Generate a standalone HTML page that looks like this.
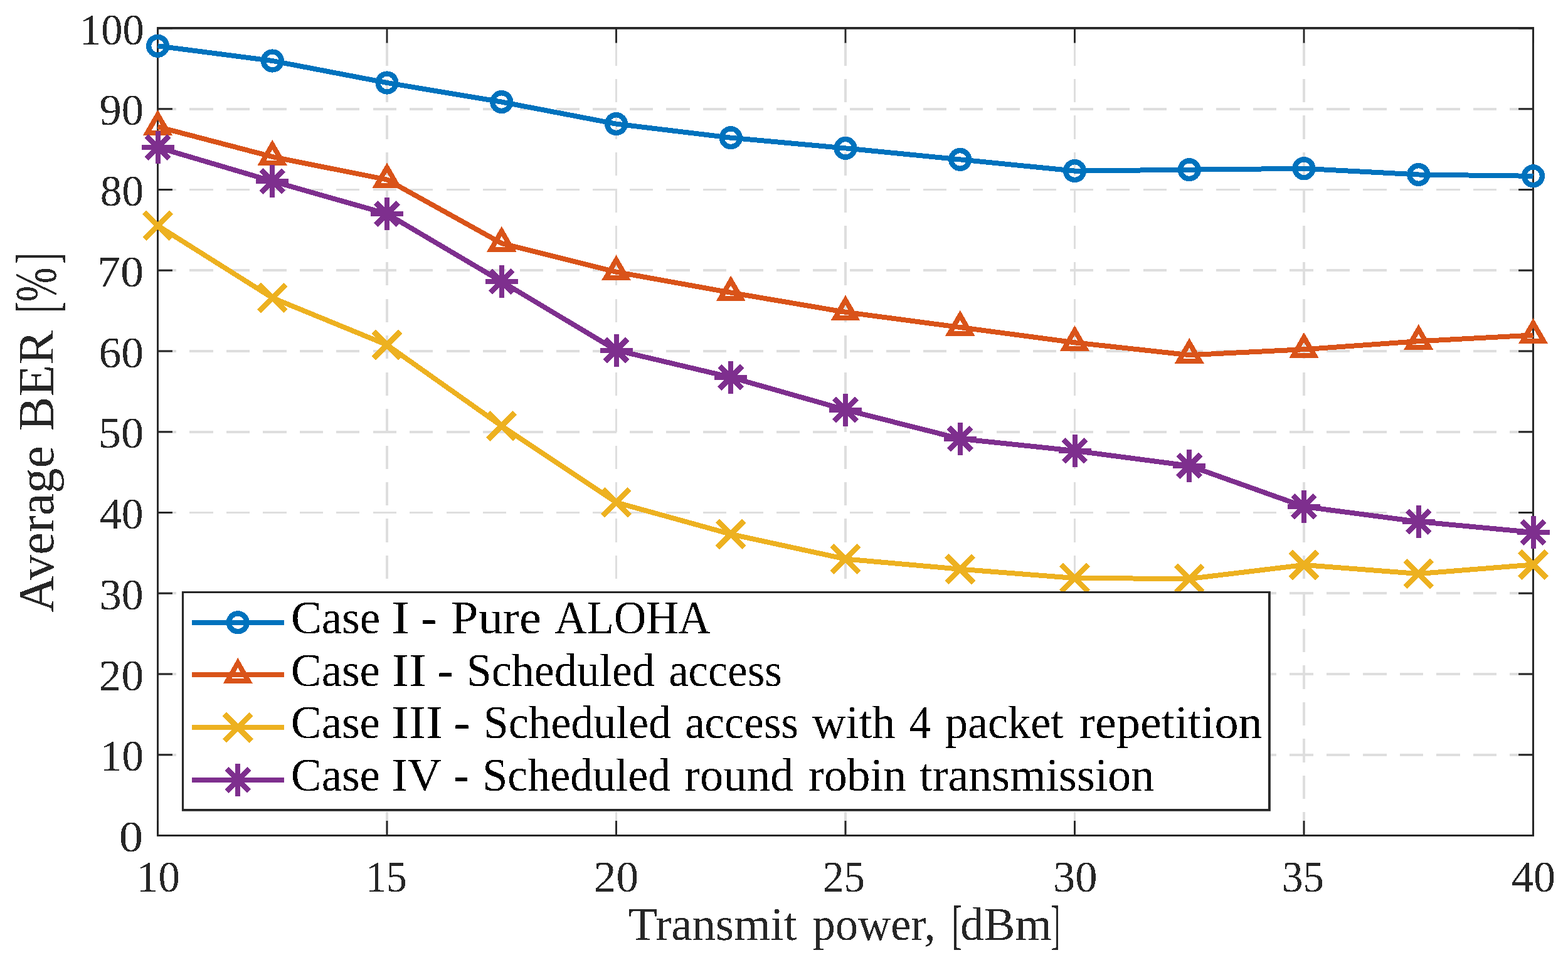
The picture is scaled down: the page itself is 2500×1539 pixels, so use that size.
<!DOCTYPE html>
<html><head><meta charset="utf-8"><title>Average BER vs Transmit power</title><style>html,body{margin:0;padding:0;background:#fff;overflow:hidden}svg{display:block}</style></head><body>
<svg width="2500" height="1539" viewBox="0 0 2500 1539">
<defs><filter id="al" filterUnits="userSpaceOnUse" x="0" y="0" width="2500" height="1539" color-interpolation-filters="sRGB"><feComponentTransfer><feFuncA type="discrete" tableValues="0 1"/></feComponentTransfer></filter></defs>
<rect x="0" y="0" width="2500" height="1539" fill="#fff"/>
<path d="M2444.5 1203.75H251.5M2444.5 1075H251.5M2444.5 946.25H251.5M2444.5 817.5H251.5M2444.5 688.75H251.5M2444.5 560H251.5M2444.5 431.25H251.5M2444.5 302.5H251.5M2444.5 173.75H251.5M617 1332.5V45M982.5 1332.5V45M1348 1332.5V45M1713.5 1332.5V45M2079 1332.5V45" stroke="#dedede" stroke-width="3.6" stroke-dasharray="37.3 21.17" fill="none" shape-rendering="crispEdges"/>
<path d="M251.5 1332.5h23.4M2444.5 1332.5h-23.4M251.5 1203.75h23.4M2444.5 1203.75h-23.4M251.5 1075h23.4M2444.5 1075h-23.4M251.5 946.25h23.4M2444.5 946.25h-23.4M251.5 817.5h23.4M2444.5 817.5h-23.4M251.5 688.75h23.4M2444.5 688.75h-23.4M251.5 560h23.4M2444.5 560h-23.4M251.5 431.25h23.4M2444.5 431.25h-23.4M251.5 302.5h23.4M2444.5 302.5h-23.4M251.5 173.75h23.4M2444.5 173.75h-23.4M251.5 45h23.4M2444.5 45h-23.4M251.5 1332.5v-23.4M251.5 45v23.4M617 1332.5v-23.4M617 45v23.4M982.5 1332.5v-23.4M982.5 45v23.4M1348 1332.5v-23.4M1348 45v23.4M1713.5 1332.5v-23.4M1713.5 45v23.4M2079 1332.5v-23.4M2079 45v23.4M2444.5 1332.5v-23.4M2444.5 45v23.4" stroke="#262626" stroke-width="2.9" fill="none"/>
<path fill="#262626" fill-rule="evenodd" d="M250.05 42.98H2445.95V1333.97H250.05Z M252.96 46.87V1331H2442.94V46.87Z"/>
<g font-family="Liberation Serif, serif" fill="#262626" filter="url(#al)">
<g font-size="70">
<text x="127.03" y="70.7" textLength="102.7" lengthAdjust="spacingAndGlyphs">100</text>
<text x="158.48" y="199.45" textLength="70.54" lengthAdjust="spacingAndGlyphs">90</text>
<text x="159.84" y="328.2" textLength="69.12" lengthAdjust="spacingAndGlyphs">80</text>
<text x="154.79" y="456.95" textLength="74.4" lengthAdjust="spacingAndGlyphs">70</text>
<text x="157.43" y="585.7" textLength="71.64" lengthAdjust="spacingAndGlyphs">60</text>
<text x="156.77" y="714.45" textLength="72.33" lengthAdjust="spacingAndGlyphs">50</text>
<text x="159" y="843.2" textLength="69.68" lengthAdjust="spacingAndGlyphs">40</text>
<text x="158.8" y="971.95" textLength="69.89" lengthAdjust="spacingAndGlyphs">30</text>
<text x="157.85" y="1100.7" textLength="71.2" lengthAdjust="spacingAndGlyphs">20</text>
<text x="159.99" y="1229.45" textLength="68.97" lengthAdjust="spacingAndGlyphs">10</text>
<text x="189.71" y="1358.2" textLength="38.38" lengthAdjust="spacingAndGlyphs">0</text>
<text x="218.1" y="1422.4" textLength="68.85" lengthAdjust="spacingAndGlyphs">10</text>
<text x="583.28" y="1422.4" textLength="65.52" lengthAdjust="spacingAndGlyphs">15</text>
<text x="946.85" y="1422.4" textLength="71.2" lengthAdjust="spacingAndGlyphs">20</text>
<text x="1312.03" y="1422.4" textLength="66.94" lengthAdjust="spacingAndGlyphs">25</text>
<text x="1678.98" y="1422.4" textLength="70.55" lengthAdjust="spacingAndGlyphs">30</text>
<text x="2044.04" y="1422.4" textLength="66.83" lengthAdjust="spacingAndGlyphs">35</text>
<text x="2410" y="1422.4" textLength="69.89" lengthAdjust="spacingAndGlyphs">40</text>
</g>
<text x="1002.09" y="1499.2" font-size="74" textLength="268.3" lengthAdjust="spacingAndGlyphs">Transmit</text>
<text x="1295.82" y="1499.2" font-size="74" textLength="195.64" lengthAdjust="spacingAndGlyphs">power,</text>
<text transform="matrix(0.6875 0 0 1.1508 1516.88 1504.49)" font-size="74">[</text>
<text x="1530.96" y="1499.2" font-size="74" textLength="145.98" lengthAdjust="spacingAndGlyphs">dBm</text>
<text transform="matrix(0.6188 0 0 1.1508 1675.24 1504.49)" font-size="74">]</text>
<g transform="translate(84.85 0) rotate(-90)"><text x="-976.79" y="0" font-size="81" textLength="265.87" lengthAdjust="spacingAndGlyphs">Average</text>
<text x="-687.75" y="0" font-size="81" textLength="161.29" lengthAdjust="spacingAndGlyphs">BER</text>
<text transform="matrix(0.6611 0 0 1.1818 -498.97 6.15)" font-size="81">[</text>
<text transform="matrix(0.8097 0 0 1.1630 -481.13 2.79)" font-size="81">%</text>
<text transform="matrix(0.6444 0 0 1.1818 -420.43 6.15)" font-size="81">]</text></g>
</g>
<g fill="none" stroke-width="8.0" shape-rendering="crispEdges">
<polyline points="251.5,73.3 434.25,97 617,132 799.75,162.6 982.5,197.6 1165.25,219.7 1348,236.4 1530.75,254.4 1713.5,272.6 1896.25,270.7 2079,268.8 2261.75,278.5 2444.5,280.8" stroke="#0072BD" stroke-linejoin="round"/>
<circle cx="251.5" cy="73.3" r="14.4" stroke="#0072BD" stroke-width="8.4"/>
<circle cx="434.25" cy="97" r="14.4" stroke="#0072BD" stroke-width="8.4"/>
<circle cx="617" cy="132" r="14.4" stroke="#0072BD" stroke-width="8.4"/>
<circle cx="799.75" cy="162.6" r="14.4" stroke="#0072BD" stroke-width="8.4"/>
<circle cx="982.5" cy="197.6" r="14.4" stroke="#0072BD" stroke-width="8.4"/>
<circle cx="1165.25" cy="219.7" r="14.4" stroke="#0072BD" stroke-width="8.4"/>
<circle cx="1348" cy="236.4" r="14.4" stroke="#0072BD" stroke-width="8.4"/>
<circle cx="1530.75" cy="254.4" r="14.4" stroke="#0072BD" stroke-width="8.4"/>
<circle cx="1713.5" cy="272.6" r="14.4" stroke="#0072BD" stroke-width="8.4"/>
<circle cx="1896.25" cy="270.7" r="14.4" stroke="#0072BD" stroke-width="8.4"/>
<circle cx="2079" cy="268.8" r="14.4" stroke="#0072BD" stroke-width="8.4"/>
<circle cx="2261.75" cy="278.5" r="14.4" stroke="#0072BD" stroke-width="8.4"/>
<circle cx="2444.5" cy="280.8" r="14.4" stroke="#0072BD" stroke-width="8.4"/>
<polyline points="251.5,202.2 434.25,250 617,286.5 799.75,388 982.5,433.7 1165.25,466.7 1348,497.8 1530.75,522 1713.5,546.3 1896.25,566.2 2079,557.2 2261.75,544.2 2444.5,534.5" stroke="#D95319" stroke-linejoin="round"/>
<polygon points="251.5,182.9 268.21,211.85 234.79,211.85" stroke="#D95319"/>
<polygon points="434.25,230.7 450.96,259.65 417.54,259.65" stroke="#D95319"/>
<polygon points="617,267.2 633.71,296.15 600.29,296.15" stroke="#D95319"/>
<polygon points="799.75,368.7 816.46,397.65 783.04,397.65" stroke="#D95319"/>
<polygon points="982.5,414.4 999.21,443.35 965.79,443.35" stroke="#D95319"/>
<polygon points="1165.25,447.4 1181.96,476.35 1148.54,476.35" stroke="#D95319"/>
<polygon points="1348,478.5 1364.71,507.45 1331.29,507.45" stroke="#D95319"/>
<polygon points="1530.75,502.7 1547.46,531.65 1514.04,531.65" stroke="#D95319"/>
<polygon points="1713.5,527 1730.21,555.95 1696.79,555.95" stroke="#D95319"/>
<polygon points="1896.25,546.9 1912.96,575.85 1879.54,575.85" stroke="#D95319"/>
<polygon points="2079,537.9 2095.71,566.85 2062.29,566.85" stroke="#D95319"/>
<polygon points="2261.75,524.9 2278.46,553.85 2245.04,553.85" stroke="#D95319"/>
<polygon points="2444.5,515.2 2461.21,544.15 2427.79,544.15" stroke="#D95319"/>
<polyline points="251.5,359.8 434.25,475 617,550 799.75,679.4 982.5,801.3 1165.25,851.9 1348,891.5 1530.75,907.7 1713.5,922 1896.25,923 2079,901 2261.75,915 2444.5,900.5" stroke="#EDB120" stroke-linejoin="round"/>
<path d="M230.2 338.5L272.8 381.1M230.2 381.1L272.8 338.5" stroke="#EDB120" stroke-width="8.7"/>
<path d="M412.95 453.7L455.55 496.3M412.95 496.3L455.55 453.7" stroke="#EDB120" stroke-width="8.7"/>
<path d="M595.7 528.7L638.3 571.3M595.7 571.3L638.3 528.7" stroke="#EDB120" stroke-width="8.7"/>
<path d="M778.45 658.1L821.05 700.7M778.45 700.7L821.05 658.1" stroke="#EDB120" stroke-width="8.7"/>
<path d="M961.2 780L1003.8 822.6M961.2 822.6L1003.8 780" stroke="#EDB120" stroke-width="8.7"/>
<path d="M1143.95 830.6L1186.55 873.2M1143.95 873.2L1186.55 830.6" stroke="#EDB120" stroke-width="8.7"/>
<path d="M1326.7 870.2L1369.3 912.8M1326.7 912.8L1369.3 870.2" stroke="#EDB120" stroke-width="8.7"/>
<path d="M1509.45 886.4L1552.05 929M1509.45 929L1552.05 886.4" stroke="#EDB120" stroke-width="8.7"/>
<path d="M1692.2 900.7L1734.8 943.3M1692.2 943.3L1734.8 900.7" stroke="#EDB120" stroke-width="8.7"/>
<path d="M1874.95 901.7L1917.55 944.3M1874.95 944.3L1917.55 901.7" stroke="#EDB120" stroke-width="8.7"/>
<path d="M2057.7 879.7L2100.3 922.3M2057.7 922.3L2100.3 879.7" stroke="#EDB120" stroke-width="8.7"/>
<path d="M2240.45 893.7L2283.05 936.3M2240.45 936.3L2283.05 893.7" stroke="#EDB120" stroke-width="8.7"/>
<path d="M2423.2 879.2L2465.8 921.8M2423.2 921.8L2465.8 879.2" stroke="#EDB120" stroke-width="8.7"/>
<polyline points="251.5,235 434.25,289 617,341 799.75,449 982.5,558.5 1165.25,601.7 1348,653.5 1530.75,699.8 1713.5,718.9 1896.25,742.8 2079,807.9 2261.75,832 2444.5,849" stroke="#7E2F8E" stroke-linejoin="round"/>
<path d="M225.5 235H277.5M251.5 209V261" stroke="#7E2F8E"/><path d="M233.7 217.2L269.3 252.8M233.7 252.8L269.3 217.2" stroke="#7E2F8E" stroke-width="8.6"/>
<path d="M408.25 289H460.25M434.25 263V315" stroke="#7E2F8E"/><path d="M416.45 271.2L452.05 306.8M416.45 306.8L452.05 271.2" stroke="#7E2F8E" stroke-width="8.6"/>
<path d="M591 341H643M617 315V367" stroke="#7E2F8E"/><path d="M599.2 323.2L634.8 358.8M599.2 358.8L634.8 323.2" stroke="#7E2F8E" stroke-width="8.6"/>
<path d="M773.75 449H825.75M799.75 423V475" stroke="#7E2F8E"/><path d="M781.95 431.2L817.55 466.8M781.95 466.8L817.55 431.2" stroke="#7E2F8E" stroke-width="8.6"/>
<path d="M956.5 558.5H1008.5M982.5 532.5V584.5" stroke="#7E2F8E"/><path d="M964.7 540.7L1000.3 576.3M964.7 576.3L1000.3 540.7" stroke="#7E2F8E" stroke-width="8.6"/>
<path d="M1139.25 601.7H1191.25M1165.25 575.7V627.7" stroke="#7E2F8E"/><path d="M1147.45 583.9L1183.05 619.5M1147.45 619.5L1183.05 583.9" stroke="#7E2F8E" stroke-width="8.6"/>
<path d="M1322 653.5H1374M1348 627.5V679.5" stroke="#7E2F8E"/><path d="M1330.2 635.7L1365.8 671.3M1330.2 671.3L1365.8 635.7" stroke="#7E2F8E" stroke-width="8.6"/>
<path d="M1504.75 699.8H1556.75M1530.75 673.8V725.8" stroke="#7E2F8E"/><path d="M1512.95 682L1548.55 717.6M1512.95 717.6L1548.55 682" stroke="#7E2F8E" stroke-width="8.6"/>
<path d="M1687.5 718.9H1739.5M1713.5 692.9V744.9" stroke="#7E2F8E"/><path d="M1695.7 701.1L1731.3 736.7M1695.7 736.7L1731.3 701.1" stroke="#7E2F8E" stroke-width="8.6"/>
<path d="M1870.25 742.8H1922.25M1896.25 716.8V768.8" stroke="#7E2F8E"/><path d="M1878.45 725L1914.05 760.6M1878.45 760.6L1914.05 725" stroke="#7E2F8E" stroke-width="8.6"/>
<path d="M2053 807.9H2105M2079 781.9V833.9" stroke="#7E2F8E"/><path d="M2061.2 790.1L2096.8 825.7M2061.2 825.7L2096.8 790.1" stroke="#7E2F8E" stroke-width="8.6"/>
<path d="M2235.75 832H2287.75M2261.75 806V858" stroke="#7E2F8E"/><path d="M2243.95 814.2L2279.55 849.8M2243.95 849.8L2279.55 814.2" stroke="#7E2F8E" stroke-width="8.6"/>
<path d="M2418.5 849H2470.5M2444.5 823V875" stroke="#7E2F8E"/><path d="M2426.7 831.2L2462.3 866.8M2426.7 866.8L2462.3 831.2" stroke="#7E2F8E" stroke-width="8.6"/>
</g>
<rect x="289.92" y="943.1" width="1735.92" height="350.67" fill="#fff"/>
<path fill="#262626" d="M289.92 943.1H2025.84V1293.77H289.92Z M293.06 946H2021.95V1289.97H293.06Z" fill-rule="evenodd"/>
<g fill="none" stroke-width="8.0" shape-rendering="crispEdges">
<path d="M305.9 992.8H453" stroke="#0072BD"/>
<circle cx="379.3" cy="992.8" r="14.4" stroke="#0072BD" stroke-width="8.4"/>
<path d="M305.9 1076.4H453" stroke="#D95319"/>
<polygon points="379.3,1057.1 396.01,1086.05 362.59,1086.05" stroke="#D95319"/>
<path d="M305.9 1160.2H453" stroke="#EDB120"/>
<path d="M358 1138.9L400.6 1181.5M358 1181.5L400.6 1138.9" stroke="#EDB120" stroke-width="8.7"/>
<path d="M305.9 1243.9H453" stroke="#7E2F8E"/>
<path d="M353.3 1243.9H405.3M379.3 1217.9V1269.9" stroke="#7E2F8E"/><path d="M361.5 1226.1L397.1 1261.7M361.5 1261.7L397.1 1226.1" stroke="#7E2F8E" stroke-width="8.6"/>
</g>
<g font-family="Liberation Serif, serif" font-size="74" fill="#000" filter="url(#al)">
<text x="463.93" y="1010.1" textLength="142.19" lengthAdjust="spacingAndGlyphs">Case</text>
<text x="624.31" y="1010.1" textLength="28.68" lengthAdjust="spacingAndGlyphs">I</text>
<text x="670.74" y="1010.1" textLength="25.95" lengthAdjust="spacingAndGlyphs">-</text>
<text x="718.77" y="1010.1" textLength="144.25" lengthAdjust="spacingAndGlyphs">Pure</text>
<text x="884.14" y="1010.1" textLength="248.79" lengthAdjust="spacingAndGlyphs">ALOHA</text>
<text x="463.83" y="1093.5" textLength="142.3" lengthAdjust="spacingAndGlyphs">Case</text>
<text x="624.44" y="1093.5" textLength="55.23" lengthAdjust="spacingAndGlyphs">II</text>
<text x="697.64" y="1093.5" textLength="25.18" lengthAdjust="spacingAndGlyphs">-</text>
<text x="743.73" y="1093.5" textLength="300.19" lengthAdjust="spacingAndGlyphs">Scheduled</text>
<text x="1066.13" y="1093.5" textLength="180.62" lengthAdjust="spacingAndGlyphs">access</text>
<text x="463.83" y="1177.3" textLength="142.3" lengthAdjust="spacingAndGlyphs">Case</text>
<text x="624.47" y="1177.3" textLength="81.98" lengthAdjust="spacingAndGlyphs">III</text>
<text x="723.61" y="1177.3" textLength="26.21" lengthAdjust="spacingAndGlyphs">-</text>
<text x="770.75" y="1177.3" textLength="299.27" lengthAdjust="spacingAndGlyphs">Scheduled</text>
<text x="1092.13" y="1177.3" textLength="180.83" lengthAdjust="spacingAndGlyphs">access</text>
<text x="1295" y="1177.3" textLength="132.47" lengthAdjust="spacingAndGlyphs">with</text>
<text x="1449.99" y="1177.3" textLength="33.72" lengthAdjust="spacingAndGlyphs">4</text>
<text x="1506.92" y="1177.3" textLength="188.37" lengthAdjust="spacingAndGlyphs">packet</text>
<text x="1720.77" y="1177.3" textLength="291.75" lengthAdjust="spacingAndGlyphs">repetition</text>
<text x="463.83" y="1261" textLength="142.3" lengthAdjust="spacingAndGlyphs">Case</text>
<text x="624.74" y="1261" textLength="79.57" lengthAdjust="spacingAndGlyphs">IV</text>
<text x="722.77" y="1261" textLength="24.92" lengthAdjust="spacingAndGlyphs">-</text>
<text x="769.13" y="1261" textLength="300.08" lengthAdjust="spacingAndGlyphs">Scheduled</text>
<text x="1091.09" y="1261" textLength="174.37" lengthAdjust="spacingAndGlyphs">round</text>
<text x="1289" y="1261" textLength="156.1" lengthAdjust="spacingAndGlyphs">robin</text>
<text x="1466.2" y="1261" textLength="374.02" lengthAdjust="spacingAndGlyphs">transmission</text>
</g>
</svg>
</body></html>
